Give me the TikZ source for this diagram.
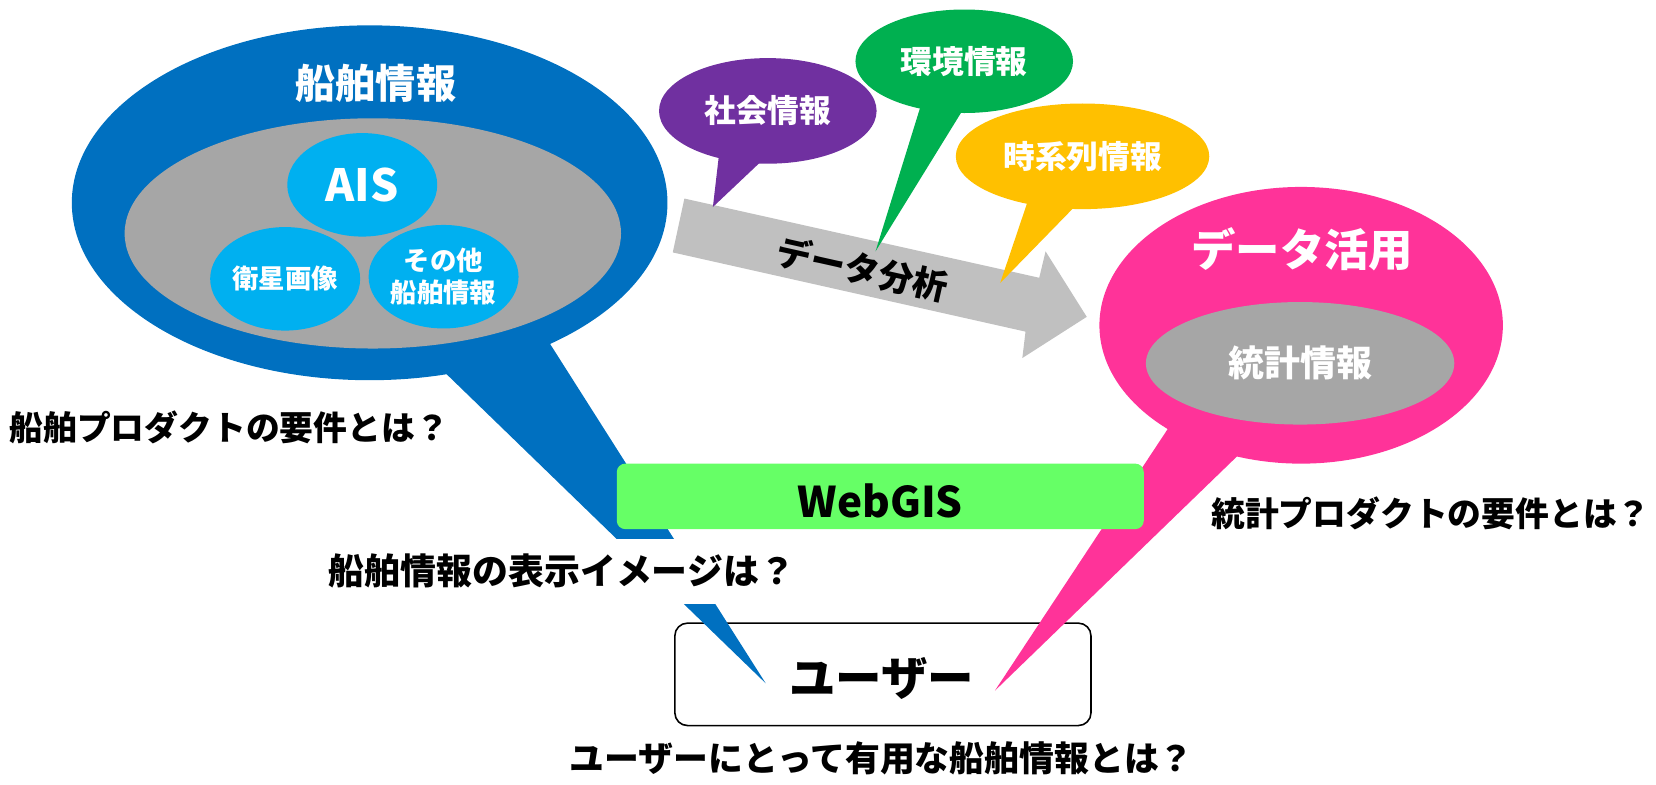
\documentclass[tikz,border=0pt]{standalone}
\usepackage{fontspec}
\setmainfont{Noto Sans CJK JP}
\usetikzlibrary{shapes.geometric}
\newcommand{\myfs}[2]{\fontsize{#1bp}{#2bp}\selectfont\bfseries}
\definecolor{cblue}{HTML}{0070C0}
\definecolor{cgray}{HTML}{A6A6A6}
\definecolor{clblue}{HTML}{00B0F0}
\definecolor{cpurple}{HTML}{7030A0}
\definecolor{cgreen}{HTML}{00B050}
\definecolor{cyellow}{HTML}{FFC000}
\definecolor{cpink}{HTML}{FF3399}
\definecolor{carrowc}{HTML}{C0C0C0}
\definecolor{cweb}{HTML}{66FF66}
\tikzset{
  wt/.style={text=white, inner sep=0pt, align=center},
  bt/.style={text=black, inner sep=0pt, align=center},
  qt/.style={bt, font=\myfs{32}{32}},
  ell/.style={ellipse, inner sep=0pt, text=white, align=center},
}
\begin{document}
\begin{tikzpicture}[x=1bp,y=-1bp]
\useasboundingbox (0,0) rectangle (1568,743);
% data analysis arrow
\coordinate (a1) at (648,188); \coordinate (a2) at (984,263);
\coordinate (a3) at (990,238); \coordinate (a4) at (1029,300);
\coordinate (a5) at (968,339); \coordinate (a6) at (971,314);
\coordinate (a7) at (637,239);
\fill[carrowc] (a1) -- (a2) -- (a3) -- (a4) -- (a5) -- (a6) -- (a7) -- cycle;
% user box
\node[draw=black, line width=1.5bp, rounded corners=12bp, fill=white,
      minimum width=394bp, minimum height=97bp, inner sep=0pt] (user) at (836,638.5) {};
% blue bubble
\node[ell, fill=cblue, minimum width=564bp, minimum height=336bp] (ship) at (350,192) {};
\coordinate (btip) at (725,647);
\fill[cblue] (405,337) -- (btip) -- (509,307) -- cycle;
% pink bubble
\node[ell, fill=cpink, minimum width=382bp, minimum height=262bp] (use) at (1232,308) {};
\coordinate (ptip) at (942,654);
\fill[cpink] (1119,386) -- (ptip) -- (1190,414) -- cycle;
% inner gray
\node[ell, fill=cgray, minimum width=470bp, minimum height=218bp] (shipin) at (353,221) {};
\node[ell, fill=cgray, minimum width=292bp, minimum height=116bp, font=\myfs{34}{34}] (stat) at (1231,344) {統計情報};
% small circles
\node[ell, fill=clblue, minimum width=142bp, minimum height=98bp, font=\myfs{42}{42}] (ais) at (343,175) {AIS};
\node[ell, fill=clblue, minimum width=142bp, minimum height=98bp, font=\myfs{25}{25}] (sat) at (270,264) {衛星画像};
\node[ell, fill=clblue, minimum width=142bp, minimum height=98bp, font=\myfs{25}{30}] (oth) at (420,262) {その他\\船舶情報};
% titles
\node[wt, font=\myfs{38}{38}] (tship) at (356,79) {船舶情報};
\node[wt, font=\myfs{42}{42}] (tuse) at (1233,236) {データ活用};
% small bubbles
\node[ell, fill=cpurple, minimum width=206bp, minimum height=100bp, font=\myfs{30}{30}] (soc) at (727,105) {社会情報};
\coordinate (stip) at (675,196);
\fill[cpurple] (682,136) -- (stip) -- (730,144) -- cycle;
\node[ell, fill=cgreen, minimum width=206bp, minimum height=98bp, font=\myfs{30}{30}] (env) at (913,58) {環境情報};
\coordinate (etip) at (829,238);
\fill[cgreen] (874,93) -- (etip) -- (916,97) -- cycle;
\node[ell, fill=cyellow, minimum width=240bp, minimum height=100bp, font=\myfs{30}{30}] (tim) at (1025,148) {時系列情報};
\coordinate (ttip) at (947,268);
\fill[cyellow] (977,179) -- (ttip) -- (1027,186) -- cycle;
% arrow label
\node[bt, rotate=-12.6, font=\myfs{33}{33}] (ana) at (817,255) {データ分析};
% question covering the blue tail
\node[bt, fill=white, minimum height=61bp, inner xsep=4bp, font=\myfs{34}{34}] (q2) at (532,541) {船舶情報の表示イメージは？};
% WebGIS
\node[fill=cweb, rounded corners=8bp, minimum width=499bp, minimum height=62bp, inner sep=0pt] (web) at (833.5,470) {};
\node[bt, font=\myfs{40}{40}] (webtxt) at (833.5,474) {WebGIS};
% texts
\node[bt, font=\myfs{44}{44}] (usertxt) at (835,642) {ユーザー};
\node[qt] (q1) at (217,405) {船舶プロダクトの要件とは？};
\node[qt] (q3) at (1355,486) {統計プロダクトの要件とは？};
\node[qt, font=\myfs{33}{33}] (q4) at (835,718) {ユーザーにとって有用な船舶情報とは？};
\end{tikzpicture}
\end{document}
